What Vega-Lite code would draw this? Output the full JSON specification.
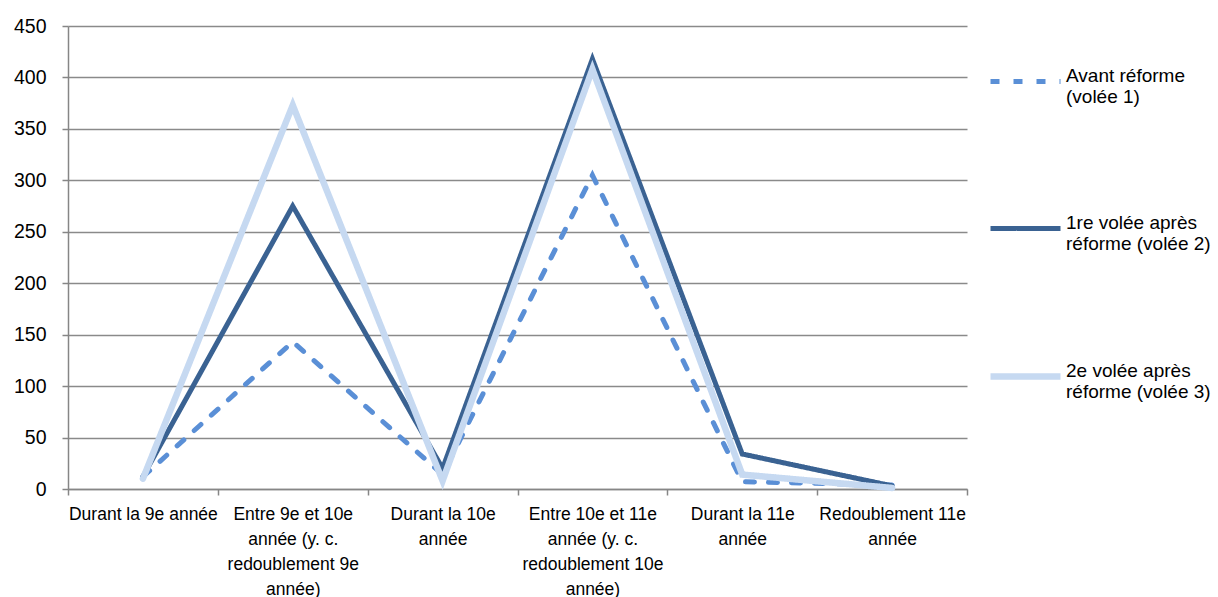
{
  "$schema": "https://vega.github.io/schema/vega-lite/v6.json",
  "width": 899,
  "height": 463,
  "autosize": {"type": "none"},
  "padding": {"left": 68, "top": 26, "right": 251, "bottom": 108},
  "background": "white",
  "config": {
    "font": "Liberation Sans",
    "view": {"stroke": null},
    "axis": {"labelColor": "#000000", "labelFont": "Liberation Sans", "domainColor": "#868686", "tickColor": "#868686", "domainWidth": 1.5, "tickWidth": 1.5}
  },
  "data": {
    "values": [
      {"serie": "Avant réforme (volée 1)", "etape": "Durant la 9e année", "effectif": 12},
      {"serie": "Avant réforme (volée 1)", "etape": "Entre 9e et 10e année (y. c. redoublement 9e année)", "effectif": 143},
      {"serie": "Avant réforme (volée 1)", "etape": "Durant la 10e année", "effectif": 14},
      {"serie": "Avant réforme (volée 1)", "etape": "Entre 10e et 11e année (y. c. redoublement 10e année)", "effectif": 305},
      {"serie": "Avant réforme (volée 1)", "etape": "Durant la 11e année", "effectif": 7},
      {"serie": "Avant réforme (volée 1)", "etape": "Redoublement 11e année", "effectif": 4},
      {"serie": "1re volée après réforme (volée 2)", "etape": "Durant la 9e année", "effectif": 12},
      {"serie": "1re volée après réforme (volée 2)", "etape": "Entre 9e et 10e année (y. c. redoublement 9e année)", "effectif": 275},
      {"serie": "1re volée après réforme (volée 2)", "etape": "Durant la 10e année", "effectif": 20},
      {"serie": "1re volée après réforme (volée 2)", "etape": "Entre 10e et 11e année (y. c. redoublement 10e année)", "effectif": 418},
      {"serie": "1re volée après réforme (volée 2)", "etape": "Durant la 11e année", "effectif": 34},
      {"serie": "1re volée après réforme (volée 2)", "etape": "Redoublement 11e année", "effectif": 3},
      {"serie": "2e volée après réforme (volée 3)", "etape": "Durant la 9e année", "effectif": 10},
      {"serie": "2e volée après réforme (volée 3)", "etape": "Entre 9e et 10e année (y. c. redoublement 9e année)", "effectif": 373},
      {"serie": "2e volée après réforme (volée 3)", "etape": "Durant la 10e année", "effectif": 8},
      {"serie": "2e volée après réforme (volée 3)", "etape": "Entre 10e et 11e année (y. c. redoublement 10e année)", "effectif": 408},
      {"serie": "2e volée après réforme (volée 3)", "etape": "Durant la 11e année", "effectif": 14},
      {"serie": "2e volée après réforme (volée 3)", "etape": "Redoublement 11e année", "effectif": 1}
    ]
  },
  "mark": {"type": "line", "strokeCap": "round", "strokeJoin": "miter"},
  "encoding": {
    "x": {
      "field": "etape",
      "type": "nominal",
      "sort": null,
      "bandPosition": 0.5,
      "scale": {"type": "band", "paddingInner": 0, "paddingOuter": 0},
      "axis": {
        "title": null,
        "labelAngle": 0,
        "labelFontSize": 17.5,
        "labelBaseline": "top",
        "labelLineHeight": 25,
        "labelPadding": 10,
        "tickBand": "extent",
        "tickSize": 6,
        "labelLimit": 0,
        "grid": false,
        "labelExpr": "datum.value == 'Entre 9e et 10e année (y. c. redoublement 9e année)' ? ['Entre 9e et 10e', 'année (y. c.', 'redoublement 9e', 'année)'] : datum.value == 'Durant la 10e année' ? ['Durant la 10e', 'année'] : datum.value == 'Entre 10e et 11e année (y. c. redoublement 10e année)' ? ['Entre 10e et 11e', 'année (y. c.', 'redoublement 10e', 'année)'] : datum.value == 'Durant la 11e année' ? ['Durant la 11e', 'année'] : datum.value == 'Redoublement 11e année' ? ['Redoublement 11e', 'année'] : datum.value"
      }
    },
    "y": {
      "field": "effectif",
      "type": "quantitative",
      "scale": {"domain": [0, 450], "nice": false},
      "axis": {
        "title": null,
        "values": [0, 50, 100, 150, 200, 250, 300, 350, 400, 450],
        "labelFontSize": 19.5,
        "labelPadding": 16,
        "tickSize": 6,
        "grid": true,
        "gridColor": "#8a8a8a",
        "gridWidth": 1.5
      }
    },
    "color": {
      "field": "serie",
      "type": "nominal",
      "scale": {
        "domain": ["Avant réforme (volée 1)", "1re volée après réforme (volée 2)", "2e volée après réforme (volée 3)"],
        "range": ["#5A8FD6", "#3A6292", "#C6D9F1"]
      },
      "legend": {
        "title": null,
        "orient": "none",
        "legendX": 919,
        "legendY": 18,
        "symbolType": "stroke",
        "symbolSize": 4900,
        "symbolStrokeWidth": 5,
        "labelFontSize": 19,
        "labelLineHeight": 26,
        "labelBaseline": "alphabetic",
        "labelOffset": 2,
        "labelLimit": 0,
        "rowPadding": 84,
        "labelColor": "#000000",
        "labelExpr": "datum.label == 'Avant réforme (volée 1)' ? ['Avant réforme', '(volée 1)'] : datum.label == '1re volée après réforme (volée 2)' ? ['1re volée après', 'réforme (volée 2)'] : ['2e volée après', 'réforme (volée 3)']",
        "encoding": {"labels": {"update": {"dy": {"value": 11}}}}
      }
    },
    "strokeDash": {
      "field": "serie",
      "type": "nominal",
      "scale": {
        "domain": ["Avant réforme (volée 1)", "1re volée après réforme (volée 2)", "2e volée après réforme (volée 3)"],
        "range": [[9, 14], [1, 0], [1, 0]]
      }
    },
    "strokeWidth": {
      "field": "serie",
      "type": "nominal",
      "scale": {
        "type": "ordinal",
        "domain": ["Avant réforme (volée 1)", "1re volée après réforme (volée 2)", "2e volée après réforme (volée 3)"],
        "range": [5, 5, 6.5]
      }
    }
  }
}
